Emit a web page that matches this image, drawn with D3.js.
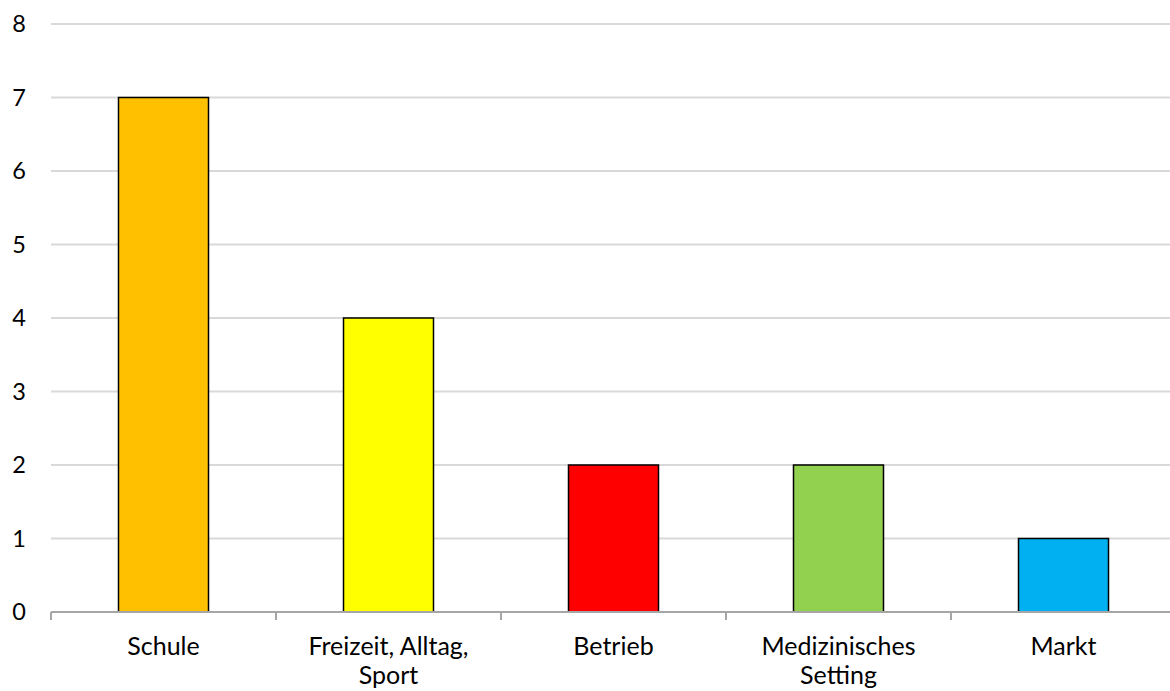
<!DOCTYPE html>
<html>
<head>
<meta charset="utf-8">
<script src="https://cdn.jsdelivr.net/npm/d3@7"></script>
<style>
  html, body { margin: 0; padding: 0; background: #fff; overflow: hidden; }
  svg { display: block; }
  text { font-family: Lato, "Open Sans", sans-serif; fill: #000; }
</style>
</head>
<body>
<svg id="chart" width="1170" height="691"></svg>
<script>
// Number of entries per setting
const categories = ["Schule", "Freizeit, Alltag, Sport", "Betrieb", "Medizinisches Setting", "Markt"];
const categoryLines = [["Schule"], ["Freizeit, Alltag,", "Sport"], ["Betrieb"], ["Medizinisches", "Setting"], ["Markt"]];
const values = [7, 4, 2, 2, 1];
const colors = ["#FFC000", "#FFFF00", "#FF0000", "#92D050", "#00B0F0"];
const yTicks = [0, 1, 2, 3, 4, 5, 6, 7, 8];

const svg = d3.select("#chart");
const margin = { left: 51, right: 1176, top: 24, bottom: 612 };

const x = d3.scaleBand()
  .domain(categories)
  .range([margin.left, margin.right])
  .paddingInner(0.6)
  .paddingOuter(0.3);

// Band slots (tick-to-tick) for separators
const slot = d3.scaleBand().domain(categories).range([margin.left, margin.right]);

const y = d3.scaleLinear().domain([0, 8]).range([margin.bottom, margin.top]);

// Horizontal gridlines
svg.append("g")
  .selectAll("line")
  .data(yTicks.filter(d => d > 0))
  .join("line")
  .attr("x1", margin.left)
  .attr("x2", margin.right)
  .attr("y1", d => y(d))
  .attr("y2", d => y(d))
  .attr("stroke", "#D9D9D9")
  .attr("stroke-width", 2);

// Y tick labels
svg.append("g")
  .selectAll("text")
  .data(yTicks)
  .join("text")
  .attr("x", 26)
  .attr("y", d => y(d))
  .attr("dy", "0.36em")
  .attr("text-anchor", "end")
  .attr("font-size", 23.5)
  .text(d => d);

// Bars
svg.append("g")
  .selectAll("rect")
  .data(categories)
  .join("rect")
  .attr("x", d => x(d))
  .attr("width", x.bandwidth())
  .attr("y", (d, i) => y(values[i]))
  .attr("height", (d, i) => y(0) - y(values[i]))
  .attr("fill", (d, i) => colors[i])
  .attr("stroke", "#000")
  .attr("stroke-width", 1.5);

// X axis line and tick marks between categories
const axis = svg.append("g");
axis.append("line")
  .attr("x1", margin.left)
  .attr("x2", margin.right)
  .attr("y1", y(0))
  .attr("y2", y(0))
  .attr("stroke", "#A6A6A6")
  .attr("stroke-width", 2);

const tickXs = categories.map(c => slot(c)).concat([margin.right]);
axis.selectAll("line.tick")
  .data(tickXs)
  .join("line")
  .attr("class", "tick")
  .attr("x1", d => d)
  .attr("x2", d => d)
  .attr("y1", y(0))
  .attr("y2", y(0) + 8)
  .attr("stroke", "#A6A6A6")
  .attr("stroke-width", 2);

// Category labels
const labels = svg.append("g")
  .selectAll("text")
  .data(categories)
  .join("text")
  .attr("text-anchor", "middle")
  .attr("font-size", 25)
  .attr("x", d => x(d) + x.bandwidth() / 2)
  .attr("y", 655);

labels.selectAll("tspan")
  .data((d, i) => categoryLines[i])
  .join("tspan")
  .attr("x", function () { return d3.select(this.parentNode).attr("x"); })
  .attr("dy", (d, i) => i === 0 ? 0 : 29)
  .text(d => d);
</script>
</body>
</html>
